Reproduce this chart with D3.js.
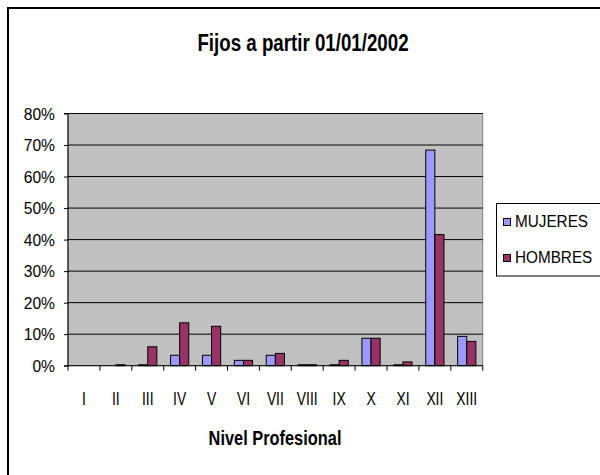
<!DOCTYPE html>
<html><head><meta charset="utf-8">
<script src="https://cdn.jsdelivr.net/npm/d3@7"></script>
<style>body{margin:0;background:#fff}svg{display:block}text{font-family:"Liberation Sans",Arial,sans-serif;fill:#000}</style>
</head><body>
<svg id="c" width="600" height="475"></svg>
<script>
const categories = ["I","II","III","IV","V","VI","VII","VIII","IX","X","XI","XII","XIII"];
const mujeres = [0, 0, 0.3, 3.3, 3.3, 1.7, 3.3, 0.3, 0.3, 8.7, 0.3, 68.4, 9.3];
const hombres = [0, 0.3, 6.0, 13.6, 12.5, 1.7, 3.9, 0.3, 1.7, 8.7, 1.2, 41.6, 7.7];
const yTicks = [0,10,20,30,40,50,60,70,80];
const seriesNames = ["MUJERES","HOMBRES"];
const colors = ["#9999FF","#993366"];

const svg = d3.select("#c");
const L = 68, R = 482.7, T = 113.5, B = 365.7;

function ntext(sel, x, y, sx) {
  return sel.append("text").attr("transform", `translate(${x},${y}) scale(${sx},1)`);
}

// outer chart border (only top and left visible)
svg.append("path").attr("d","M8,475V8H600").attr("fill","none").attr("stroke","#000").attr("stroke-width",2);

ntext(svg, 303, 51, 0.78).attr("text-anchor","middle")
  .attr("font-weight","bold").attr("font-size",24).text("Fijos a partir 01/01/2002");

const x = d3.scaleBand().domain(categories).range([L,R]).paddingInner(0).paddingOuter(0);
const y = d3.scaleLinear().domain([0,80]).range([B,T]);
const bw = x.bandwidth()/3.5;

svg.append("rect").attr("x",L).attr("y",T).attr("width",R-L).attr("height",B-T).attr("fill","#C0C0C0").attr("stroke","#808080");

// gridlines
svg.append("g").selectAll("line").data(yTicks.filter(d=>d>0)).join("line")
  .attr("x1",L).attr("x2",R).attr("y1",d=>y(d)).attr("y2",d=>y(d)).attr("stroke","#000").attr("stroke-width",1);

// bars
const data = categories.map((c,i)=>({c, v:[mujeres[i],hombres[i]]}));
const g = svg.append("g");
data.forEach(d=>{
  d.v.forEach((v,j)=>{
    if (v<=0) return;
    const x0 = x(d.c) + x.bandwidth()/2 - bw + j*bw;
    g.append("rect").attr("x",x0).attr("y",y(v)).attr("width",bw).attr("height",B-y(v))
      .attr("fill",colors[j]).attr("stroke","#000").attr("stroke-width",1);
  });
});

// y axis
const yAxis = d3.axisLeft(y).tickValues(yTicks).tickSize(4).tickFormat("");
const ya = svg.append("g").attr("transform",`translate(${L},0)`).call(yAxis);
ya.select(".domain").attr("d",`M-4,${T}H0V${B}H-4`).attr("stroke","#000");
yTicks.forEach(t=>{
  ntext(svg, 55, y(t)+6, 0.92).attr("text-anchor","end").attr("font-size",17).text(t+"%");
});

// x axis
const xa = svg.append("g").attr("transform",`translate(0,${B})`);
xa.append("line").attr("x1",L).attr("x2",R).attr("stroke","#000");
xa.selectAll("line.t").data(d3.range(categories.length+1)).join("line").attr("class","t")
  .attr("x1",i=>L+i*x.bandwidth()).attr("x2",i=>L+i*x.bandwidth()).attr("y1",0).attr("y2",5).attr("stroke","#000");
categories.forEach(c=>{
  ntext(svg, x(c)+x.bandwidth()/2, 405, 0.77).attr("text-anchor","middle").attr("font-size",18).text(c);
});

ntext(svg, 275, 445, 0.78).attr("text-anchor","middle")
  .attr("font-weight","bold").attr("font-size",21).text("Nivel Profesional");

// legend
const lg = svg.append("g");
lg.append("rect").attr("x",496.5).attr("y",203.5).attr("width",120).attr("height",72.5).attr("fill","#fff").attr("stroke","#000");
seriesNames.forEach((n,i)=>{
  lg.append("rect").attr("x",503.5).attr("y",218.5+i*36).attr("width",7).attr("height",7).attr("fill",colors[i]).attr("stroke","#000");
  ntext(lg, 515, 227+i*36, 0.9).attr("font-size",17).text(n);
});
</script>
</body></html>
